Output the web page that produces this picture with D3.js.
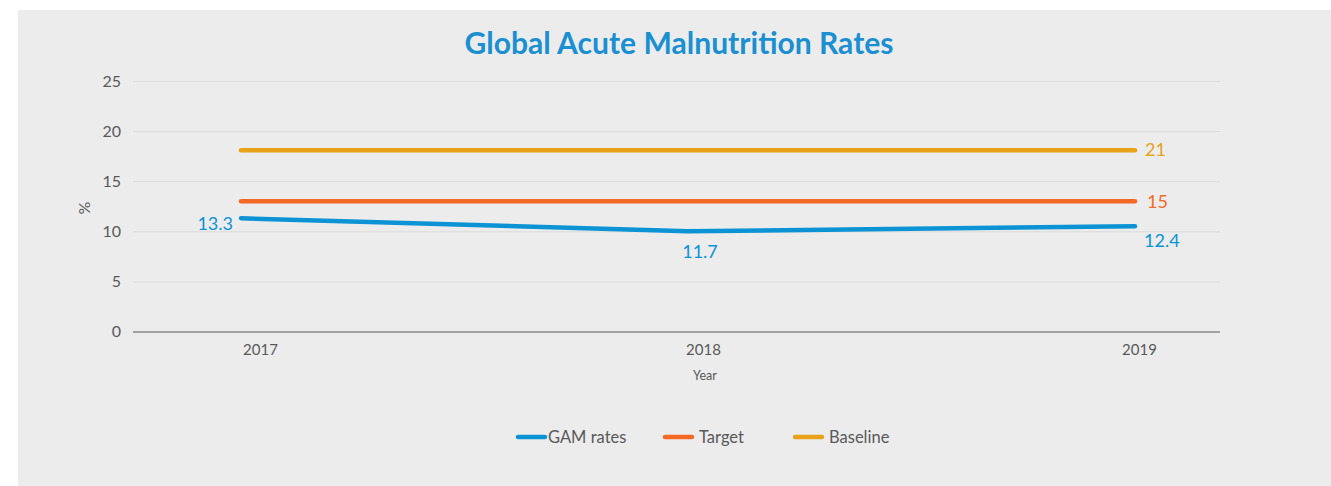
<!DOCTYPE html>
<html><head><meta charset="utf-8">
<script src="https://cdn.jsdelivr.net/npm/d3@7"></script>
<style>body{margin:0;background:#fff;} svg{display:block;}</style>
</head><body>
<svg id="c" width="1331" height="486"></svg>
<script>
const years = ["2017", "2018", "2019"];
const gamRates = [11.3, 10.0, 10.5];
const gamLabels = ["13.3", "11.7", "12.4"];
const target = [13, 13, 13];
const targetLabel = "15";
const baseline = [18.1, 18.1, 18.1];
const baselineLabel = "21";
const yTicks = [0, 5, 10, 15, 20, 25];
const seriesNames = ["GAM rates", "Target", "Baseline"];
const colors = ["#0b93d5", "#f26a26", "#e8a31a"];

const svg = d3.select("#c");
const font = "Lato, 'Open Sans', sans-serif";
svg.append("rect").attr("x",18).attr("y",10).attr("width",1313).attr("height",476).attr("fill","#ececec");

svg.append("text").attr("x",679).attr("y",54).attr("text-anchor","middle")
  .attr("font-family",font).attr("font-weight","bold").attr("font-size",30)
  .attr("textLength",429).attr("lengthAdjust","spacingAndGlyphs")
  .attr("fill","#1a8fd1").text("Global Acute Malnutrition Rates");

const x0 = 133, x1 = 1220;
const y = d3.scaleLinear().domain([0,25]).range([331.5,81]);
const x = d3.scalePoint().domain(years).range([241,1135]);

const yAxis = d3.axisLeft(y).tickValues(yTicks).tickSize(-(x1-x0)).tickPadding(12);
const gy = svg.append("g").attr("transform",`translate(${x0},0)`).call(yAxis);
gy.select(".domain").remove();
gy.selectAll(".tick line").attr("stroke","#dcdcdc").attr("stroke-width",1);
gy.selectAll(".tick text").attr("font-family",font).attr("font-size",16).attr("fill","#595959");
gy.selectAll(".tick").filter(d=>d===0).select("line").attr("stroke","#8a8a8a").attr("stroke-width",1.5);

const xAxis = d3.axisBottom(x).tickSize(0).tickPadding(13);
const gx = svg.append("g").attr("transform",`translate(0,331.5)`).call(xAxis);
gx.select(".domain").remove();
gx.selectAll(".tick text").attr("font-family",font).attr("font-size",15).attr("fill","#595959")
  .attr("dx",(d,i)=>[19,15,4][i]);

svg.append("text").attr("x",705).attr("y",380).attr("text-anchor","middle")
  .attr("font-family",font).attr("font-size",12.5).attr("fill","#595959").text("Year");
svg.append("text").attr("transform","translate(90,208) rotate(-90)").attr("text-anchor","middle")
  .attr("font-family",font).attr("font-size",16).attr("fill","#595959").text("%");

const line = d3.line().x((d,i)=>x(years[i])).y(d=>y(d));
[gamRates, target, baseline].forEach((s,k)=>{
  svg.append("path").datum(s).attr("d",line).attr("fill","none")
    .attr("stroke",colors[k]).attr("stroke-width",4.5).attr("stroke-linecap","round");
});

const lblFont = 18;
svg.append("text").attr("x",x(years[0])-8).attr("y",y(gamRates[0])+12).attr("text-anchor","end")
  .attr("font-family",font).attr("font-size",lblFont).attr("fill",colors[0]).text(gamLabels[0]);
svg.append("text").attr("x",x(years[1])+12).attr("y",y(gamRates[1])+27).attr("text-anchor","middle")
  .attr("font-family",font).attr("font-size",lblFont).attr("fill",colors[0]).text(gamLabels[1]);
svg.append("text").attr("x",x(years[2])+9).attr("y",y(gamRates[2])+21).attr("text-anchor","start")
  .attr("font-family",font).attr("font-size",lblFont).attr("fill",colors[0]).text(gamLabels[2]);
svg.append("text").attr("x",x(years[2])+12).attr("y",y(target[2])+7).attr("text-anchor","start")
  .attr("font-family",font).attr("font-size",lblFont).attr("fill",colors[1]).text(targetLabel);
svg.append("text").attr("x",x(years[2])+10).attr("y",y(baseline[2])+6).attr("text-anchor","start")
  .attr("font-family",font).attr("font-size",lblFont).attr("fill",colors[2]).text(baselineLabel);

const legLine = [[518,545],[665,692],[795,822]];
const legText = [548, 699, 829];
seriesNames.forEach((n,k)=>{
  const g = svg.append("g").attr("transform",`translate(0,437)`);
  g.append("line").attr("x1",legLine[k][0]).attr("x2",legLine[k][1]).attr("stroke",colors[k]).attr("stroke-width",4.5).attr("stroke-linecap","round");
  g.append("text").attr("x",legText[k]).attr("y",6).attr("font-family",font).attr("font-size",16.5).attr("fill","#595959").text(n);
});
</script>
</body></html>
